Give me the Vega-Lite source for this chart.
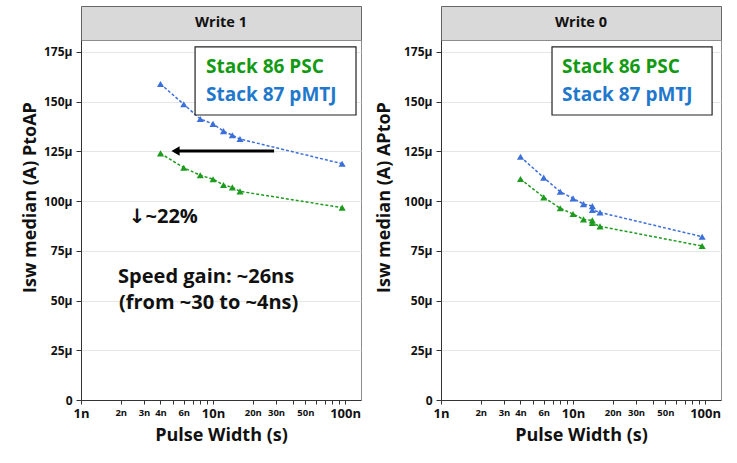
{
  "$schema": "https://vega.github.io/schema/vega-lite/v6.json",
  "autosize": {"type": "pad"},
  "padding": {"left": 20, "top": 5, "right": 0, "bottom": 0},
  "background": "white",
  "config": {
    "font": "Open Sans",
    "view": {"stroke": "#8c8c8c"},
    "axis": {
      "domainColor": "#333333",
      "tickColor": "#333333",
      "labelColor": "#111111",
      "titleColor": "#111111",
      "labelFont": "Open Sans",
      "titleFont": "Open Sans",
      "labelFontWeight": "bold",
      "titleFontWeight": "bold",
      "gridColor": "#e6e6e6"
    }
  },
  "datasets": {
    "pts": [
      {"panel": "Write 1", "series": "Stack 87 pMTJ", "pulse_ns": 4, "isw": 158.9},
      {"panel": "Write 1", "series": "Stack 87 pMTJ", "pulse_ns": 6, "isw": 148.7},
      {"panel": "Write 1", "series": "Stack 87 pMTJ", "pulse_ns": 8, "isw": 141.3},
      {"panel": "Write 1", "series": "Stack 87 pMTJ", "pulse_ns": 10, "isw": 138.8},
      {"panel": "Write 1", "series": "Stack 87 pMTJ", "pulse_ns": 12, "isw": 135.2},
      {"panel": "Write 1", "series": "Stack 87 pMTJ", "pulse_ns": 14, "isw": 133.1},
      {"panel": "Write 1", "series": "Stack 87 pMTJ", "pulse_ns": 16, "isw": 131.2},
      {"panel": "Write 1", "series": "Stack 87 pMTJ", "pulse_ns": 95, "isw": 118.8},
      {"panel": "Write 1", "series": "Stack 86 PSC", "pulse_ns": 4, "isw": 124.0},
      {"panel": "Write 1", "series": "Stack 86 PSC", "pulse_ns": 6, "isw": 116.8},
      {"panel": "Write 1", "series": "Stack 86 PSC", "pulse_ns": 8, "isw": 113.0},
      {"panel": "Write 1", "series": "Stack 86 PSC", "pulse_ns": 10, "isw": 111.0},
      {"panel": "Write 1", "series": "Stack 86 PSC", "pulse_ns": 12, "isw": 108.1},
      {"panel": "Write 1", "series": "Stack 86 PSC", "pulse_ns": 14, "isw": 106.9},
      {"panel": "Write 1", "series": "Stack 86 PSC", "pulse_ns": 16, "isw": 104.9},
      {"panel": "Write 1", "series": "Stack 86 PSC", "pulse_ns": 95, "isw": 96.7},
      {"panel": "Write 0", "series": "Stack 87 pMTJ", "pulse_ns": 4, "isw": 122.3},
      {"panel": "Write 0", "series": "Stack 87 pMTJ", "pulse_ns": 6, "isw": 111.8},
      {"panel": "Write 0", "series": "Stack 87 pMTJ", "pulse_ns": 8, "isw": 104.7},
      {"panel": "Write 0", "series": "Stack 87 pMTJ", "pulse_ns": 10, "isw": 101.4},
      {"panel": "Write 0", "series": "Stack 87 pMTJ", "pulse_ns": 12, "isw": 98.5},
      {"panel": "Write 0", "series": "Stack 87 pMTJ", "pulse_ns": 14, "isw": 97.5},
      {"panel": "Write 0", "series": "Stack 87 pMTJ", "pulse_ns": 14, "isw": 95.6},
      {"panel": "Write 0", "series": "Stack 87 pMTJ", "pulse_ns": 16, "isw": 94.3},
      {"panel": "Write 0", "series": "Stack 87 pMTJ", "pulse_ns": 95, "isw": 82.1},
      {"panel": "Write 0", "series": "Stack 86 PSC", "pulse_ns": 4, "isw": 111.1},
      {"panel": "Write 0", "series": "Stack 86 PSC", "pulse_ns": 6, "isw": 101.9},
      {"panel": "Write 0", "series": "Stack 86 PSC", "pulse_ns": 8, "isw": 96.4},
      {"panel": "Write 0", "series": "Stack 86 PSC", "pulse_ns": 10, "isw": 93.5},
      {"panel": "Write 0", "series": "Stack 86 PSC", "pulse_ns": 12, "isw": 90.8},
      {"panel": "Write 0", "series": "Stack 86 PSC", "pulse_ns": 14, "isw": 90.3},
      {"panel": "Write 0", "series": "Stack 86 PSC", "pulse_ns": 14, "isw": 89.0},
      {"panel": "Write 0", "series": "Stack 86 PSC", "pulse_ns": 16, "isw": 87.3},
      {"panel": "Write 0", "series": "Stack 86 PSC", "pulse_ns": 95, "isw": 77.4}
    ],
    "notes": [
      {"panel": "Write 1", "kind": "box", "pulse_ns": 7.31, "pulse_ns2": 121, "isw": 177.5, "isw2": 143.3},
      {"panel": "Write 0", "kind": "box", "pulse_ns": 6.93, "pulse_ns2": 113, "isw": 177.5, "isw2": 143.3},
      {"panel": "Write 1", "kind": "green", "pulse_ns": 8.85, "isw": 167.4, "label": "Stack 86 PSC"},
      {"panel": "Write 1", "kind": "blue", "pulse_ns": 8.85, "isw": 153.3, "label": "Stack 87 pMTJ"},
      {"panel": "Write 0", "kind": "green", "pulse_ns": 8.26, "isw": 167.4, "label": "Stack 86 PSC"},
      {"panel": "Write 0", "kind": "blue", "pulse_ns": 8.26, "isw": 153.3, "label": "Stack 87 pMTJ"},
      {"panel": "Write 1", "kind": "black", "pulse_ns": 2.3, "isw": 92.2, "label": "↓~22%"},
      {"panel": "Write 1", "kind": "black", "pulse_ns": 1.91, "isw": 61.7, "label": "Speed gain: ~26ns"},
      {"panel": "Write 1", "kind": "black", "pulse_ns": 1.94, "isw": 48.9, "label": "(from ~30 to ~4ns)"},
      {"panel": "Write 1", "kind": "arrow", "pulse_ns": 29, "pulse_ns2": 5.2, "isw": 125.2}
    ]
  },
  "columns": 2,
  "bounds": "flush",
  "spacing": {"row": 0, "column": 80},
  "concat": [
    {
      "width": 280, "height": 34,
      "view": {"fill": "#d9d9d9", "stroke": "#666666", "strokeWidth": 1},
      "data": {"values": [{"label": "Write 1"}]},
      "mark": {"type": "text", "fontSize": 14.5, "fontWeight": "bold", "font": "Open Sans", "color": "#111111"},
      "encoding": {"text": {"field": "label"}}
    },
    {
      "width": 280, "height": 34,
      "view": {"fill": "#d9d9d9", "stroke": "#666666", "strokeWidth": 1},
      "data": {"values": [{"label": "Write 0"}]},
      "mark": {"type": "text", "fontSize": 14.5, "fontWeight": "bold", "font": "Open Sans", "color": "#111111"},
      "encoding": {"text": {"field": "label"}}
    },
    {
      "width": 280, "height": 360,
      "layer": [
        {
          "data": {"name": "pts"},
          "transform": [{"filter": "datum.panel === 'Write 1'"}],
          "mark": {"type": "line", "strokeDash": [3, 2], "strokeWidth": 1.5},
          "encoding": {
            "x": {"field": "pulse_ns", "type": "quantitative",
              "scale": {"type": "log", "domain": [1, 132], "nice": false},
              "axis": {"title": "Pulse Width (s)", "values": [1,2,3,4,5,6,7,8,9,10,20,30,40,50,60,70,80,90,100],
                "labelExpr": "indexof([1,2,3,4,6,10,20,30,50,100], round(datum.value)) >= 0 ? round(datum.value) + 'n' : ''",
                "labelFontSize": {"condition": {"test": "datum.value == 1 || datum.value == 10 || datum.value == 100", "value": 13}, "value": 9.5},
                "labelOverlap": false, "labelFlush": false, "grid": false, "tickSize": 4, "labelPadding": 3,
                "titleFontSize": 18, "titlePadding": 6}},
            "y": {"field": "isw", "type": "quantitative",
              "scale": {"domain": [0, 181], "nice": false, "zero": true},
              "axis": {"title": "Isw median (A) PtoAP", "values": [0,12.5,25,37.5,50,62.5,75,87.5,100,112.5,125,137.5,150,162.5,175],
                "labelExpr": "datum.value == 0 ? '0' : (datum.value % 25 == 0 ? datum.value + 'μ' : '')",
                "grid": true, "tickSize": 5, "labelPadding": 4, "labelFontSize": 12, "labelOverlap": false,
                "titleFontSize": 18, "titleY": 157, "titlePadding": 4}},
            "color": {"field": "series", "type": "nominal",
              "scale": {"domain": ["Stack 86 PSC", "Stack 87 pMTJ"], "range": ["#1e9b1e", "#3b6fd9"]}, "legend": null},
            "order": {"field": "pulse_ns"}
          }
        },
        {
          "data": {"name": "pts"},
          "transform": [{"filter": "datum.panel === 'Write 1'"}],
          "mark": {"type": "point", "shape": "triangle-up", "filled": true, "size": 50, "opacity": 1},
          "encoding": {
            "x": {"field": "pulse_ns", "type": "quantitative"},
            "y": {"field": "isw", "type": "quantitative"},
            "color": {"field": "series", "type": "nominal", "legend": null}
          }
        },
        {
          "data": {"name": "notes"},
          "transform": [{"filter": "datum.panel === 'Write 1' && datum.kind === 'box'"}],
          "mark": {"type": "rect", "fill": "white", "stroke": "#222222", "strokeWidth": 1.2},
          "encoding": {
            "x": {"field": "pulse_ns", "type": "quantitative"}, "x2": {"field": "pulse_ns2"},
            "y": {"field": "isw", "type": "quantitative"}, "y2": {"field": "isw2"}
          }
        },
        {
          "data": {"name": "notes"},
          "transform": [{"filter": "datum.panel === 'Write 1' && datum.kind === 'green'"}],
          "mark": {"type": "text", "align": "left", "baseline": "middle", "font": "Open Sans", "fontWeight": "bold", "fontSize": 19, "color": "#129a12"},
          "encoding": {"x": {"field": "pulse_ns", "type": "quantitative"}, "y": {"field": "isw", "type": "quantitative"}, "text": {"field": "label"}}
        },
        {
          "data": {"name": "notes"},
          "transform": [{"filter": "datum.panel === 'Write 1' && datum.kind === 'blue'"}],
          "mark": {"type": "text", "align": "left", "baseline": "middle", "font": "Open Sans", "fontWeight": "bold", "fontSize": 19, "color": "#1f78cc"},
          "encoding": {"x": {"field": "pulse_ns", "type": "quantitative"}, "y": {"field": "isw", "type": "quantitative"}, "text": {"field": "label"}}
        },
        {
          "data": {"name": "notes"},
          "transform": [{"filter": "datum.panel === 'Write 1' && datum.kind === 'black'"}],
          "mark": {"type": "text", "align": "left", "baseline": "middle", "font": "'Open Sans', 'DejaVu Sans'", "fontWeight": "bold", "fontSize": 20, "color": "#111111"},
          "encoding": {"x": {"field": "pulse_ns", "type": "quantitative"}, "y": {"field": "isw", "type": "quantitative"}, "text": {"field": "label"}}
        },
        {
          "data": {"name": "notes"},
          "transform": [{"filter": "datum.kind === 'arrow'"}],
          "mark": {"type": "rule", "strokeWidth": 3, "color": "black"},
          "encoding": {"x": {"field": "pulse_ns", "type": "quantitative"}, "x2": {"field": "pulse_ns2"}, "y": {"field": "isw", "type": "quantitative"}}
        },
        {
          "data": {"name": "notes"},
          "transform": [{"filter": "datum.kind === 'arrow'"}],
          "mark": {"type": "point", "shape": "triangle-left", "filled": true, "size": 90, "color": "black", "opacity": 1},
          "encoding": {"x": {"field": "pulse_ns2", "type": "quantitative"}, "y": {"field": "isw", "type": "quantitative"}}
        }
      ]
    },
    {
      "width": 280, "height": 360,
      "layer": [
        {
          "data": {"name": "pts"},
          "transform": [{"filter": "datum.panel === 'Write 0'"}],
          "mark": {"type": "line", "strokeDash": [3, 2], "strokeWidth": 1.5},
          "encoding": {
            "x": {"field": "pulse_ns", "type": "quantitative",
              "scale": {"type": "log", "domain": [1, 132], "nice": false},
              "axis": {"title": "Pulse Width (s)", "values": [1,2,3,4,5,6,7,8,9,10,20,30,40,50,60,70,80,90,100],
                "labelExpr": "indexof([1,2,3,4,6,10,20,30,50,100], round(datum.value)) >= 0 ? round(datum.value) + 'n' : ''",
                "labelFontSize": {"condition": {"test": "datum.value == 1 || datum.value == 10 || datum.value == 100", "value": 13}, "value": 9.5},
                "labelOverlap": false, "labelFlush": false, "grid": false, "tickSize": 4, "labelPadding": 3,
                "titleFontSize": 18, "titlePadding": 6}},
            "y": {"field": "isw", "type": "quantitative",
              "scale": {"domain": [0, 181], "nice": false, "zero": true},
              "axis": {"title": "Isw median (A) APtoP", "values": [0,12.5,25,37.5,50,62.5,75,87.5,100,112.5,125,137.5,150,162.5,175],
                "labelExpr": "datum.value == 0 ? '0' : (datum.value % 25 == 0 ? datum.value + 'μ' : '')",
                "grid": true, "tickSize": 5, "labelPadding": 4, "labelFontSize": 12, "labelOverlap": false,
                "titleFontSize": 18, "titleY": 157, "titlePadding": 10}},
            "color": {"field": "series", "type": "nominal",
              "scale": {"domain": ["Stack 86 PSC", "Stack 87 pMTJ"], "range": ["#1e9b1e", "#3b6fd9"]}, "legend": null},
            "order": {"field": "pulse_ns"}
          }
        },
        {
          "data": {"name": "pts"},
          "transform": [{"filter": "datum.panel === 'Write 0'"}],
          "mark": {"type": "point", "shape": "triangle-up", "filled": true, "size": 50, "opacity": 1},
          "encoding": {
            "x": {"field": "pulse_ns", "type": "quantitative"},
            "y": {"field": "isw", "type": "quantitative"},
            "color": {"field": "series", "type": "nominal", "legend": null}
          }
        },
        {
          "data": {"name": "notes"},
          "transform": [{"filter": "datum.panel === 'Write 0' && datum.kind === 'box'"}],
          "mark": {"type": "rect", "fill": "white", "stroke": "#222222", "strokeWidth": 1.2},
          "encoding": {
            "x": {"field": "pulse_ns", "type": "quantitative"}, "x2": {"field": "pulse_ns2"},
            "y": {"field": "isw", "type": "quantitative"}, "y2": {"field": "isw2"}
          }
        },
        {
          "data": {"name": "notes"},
          "transform": [{"filter": "datum.panel === 'Write 0' && datum.kind === 'green'"}],
          "mark": {"type": "text", "align": "left", "baseline": "middle", "font": "Open Sans", "fontWeight": "bold", "fontSize": 19, "color": "#129a12"},
          "encoding": {"x": {"field": "pulse_ns", "type": "quantitative"}, "y": {"field": "isw", "type": "quantitative"}, "text": {"field": "label"}}
        },
        {
          "data": {"name": "notes"},
          "transform": [{"filter": "datum.panel === 'Write 0' && datum.kind === 'blue'"}],
          "mark": {"type": "text", "align": "left", "baseline": "middle", "font": "Open Sans", "fontWeight": "bold", "fontSize": 19, "color": "#1f78cc"},
          "encoding": {"x": {"field": "pulse_ns", "type": "quantitative"}, "y": {"field": "isw", "type": "quantitative"}, "text": {"field": "label"}}
        }
      ]
    }
  ]
}
